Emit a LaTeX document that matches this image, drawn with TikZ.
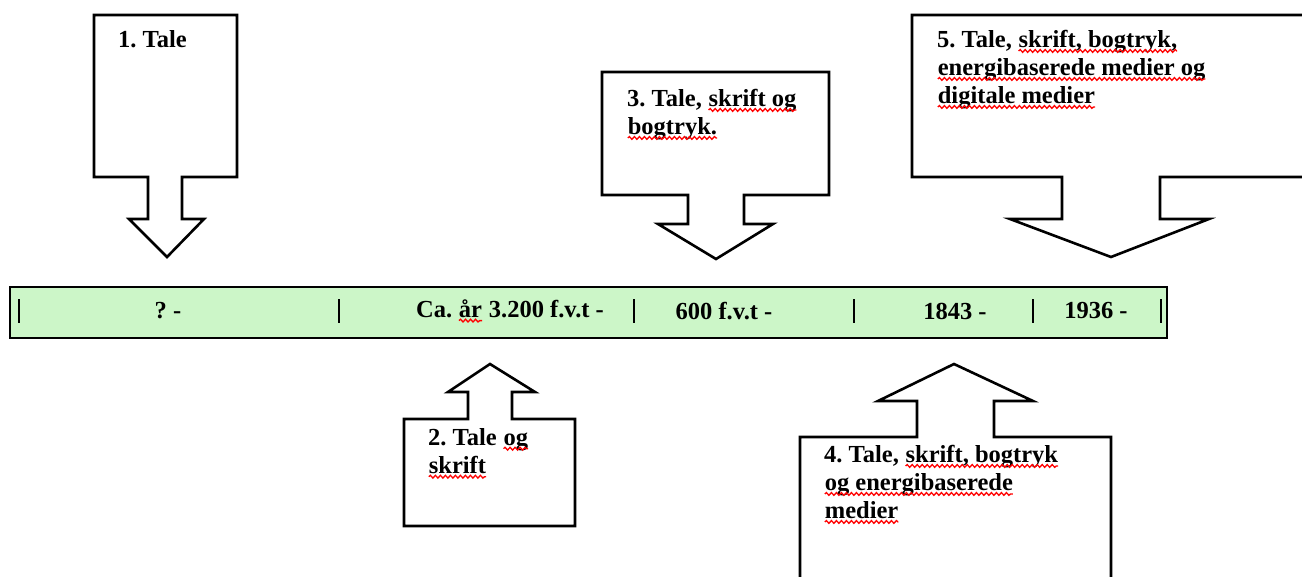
\documentclass[tikz,border=0pt]{standalone}
\usepackage{fontspec}
\setmainfont{Liberation Serif}
\usetikzlibrary{decorations.pathmorphing}
\frenchspacing
\definecolor{barfill}{RGB}{204,246,200}
% red wavy underline for flagged words
\newcommand\spell[1]{\tikz[baseline=(w.base)]{%
  \node[inner sep=0pt, outer sep=0pt, anchor=base, draw=none, fill=none] (w) {#1};
  \draw[red, line width=1.3pt, decorate, decoration={snake, amplitude=1.4pt, segment length=5pt}]
    ([yshift=-3.5pt]w.base west) -- ([yshift=-3.5pt]w.base east);}}
\tikzset{
  callout/.style={draw=black, line width=2.6pt, fill=white, line join=miter},
  label/.style={font=\fontsize{24.5}{28}\selectfont\bfseries, align=left, inner sep=0pt, anchor=north west},
  datelabel/.style={font=\fontsize{24.5}{28}\selectfont\bfseries, inner sep=0pt, anchor=center},
  tick/.style={line width=2.8pt, black},
  bar/.style={draw=black, line width=2.8pt, fill=barfill}
}
\begin{document}
\begin{tikzpicture}[x=1pt, y=-1pt]
\clip (0,0) rectangle (1302,576);
\fill[white] (0,0) rectangle (1302,576);

% timeline bar
\draw[bar] (10,287) rectangle (1167,338);
\foreach \tx in {19,339,634,854,1033,1161}
  \draw[tick] (\tx,299) -- (\tx,323);
\node[datelabel] (d0) at (168,311) {? -};
\node[datelabel] (d1) at (510,311) {Ca. \spell{år} 3.200 f.v.t -};
\node[datelabel] (d2) at (724,311) {600 f.v.t -};
\node[datelabel] (d3) at (955,311) {1843 -};
\node[datelabel] (d4) at (1096,311) {1936 -};

% callout 1 (pointing down)
\draw[callout] (94,15) -- (237,15) -- (237,177) -- (182,177) -- (182,219)
  -- (204,219) -- (167,257) -- (129,219) -- (148,219) -- (148,177) -- (94,177) -- cycle;
\node[label] (c1) at (118,30) {1. Tale};

% callout 3 (pointing down)
\draw[callout] (602,72) -- (829,72) -- (829,195) -- (744,195) -- (744,224)
  -- (773,224) -- (716,259) -- (658,224) -- (688,224) -- (688,195) -- (602,195) -- cycle;
\node[label] (c3) at (627,89) {3. Tale, \spell{skrift og}\\\spell{bogtryk.}};

% callout 5 (pointing down)
\draw[callout] (912,15) -- (1330,15) -- (1330,177) -- (1160,177) -- (1160,219)
  -- (1209,219) -- (1111,257) -- (1010,219) -- (1062,219) -- (1062,177) -- (912,177) -- cycle;
\node[label] (c5) at (937,30) {5. Tale, \spell{skrift, bogtryk,}\\\spell{energibaserede medier og}\\\spell{digitale medier}};

% callout 2 (pointing up)
\draw[callout] (490,364) -- (535,392) -- (512,392) -- (512,419) -- (575,419)
  -- (575,526) -- (404,526) -- (404,419) -- (468,419) -- (468,392) -- (448,392) -- cycle;
\node[label] (c2) at (428,428) {2. Tale \spell{og}\\\spell{skrift}};

% callout 4 (pointing up)
\draw[callout] (954,364) -- (1033,401) -- (994,401) -- (994,437) -- (1111,437)
  -- (1111,600) -- (800,600) -- (800,437) -- (917,437) -- (917,401) -- (878,401) -- cycle;
\node[label] (c4) at (824,445) {4. Tale, \spell{skrift, bogtryk}\\\spell{og energibaserede}\\\spell{medier}};
\end{tikzpicture}
\end{document}
